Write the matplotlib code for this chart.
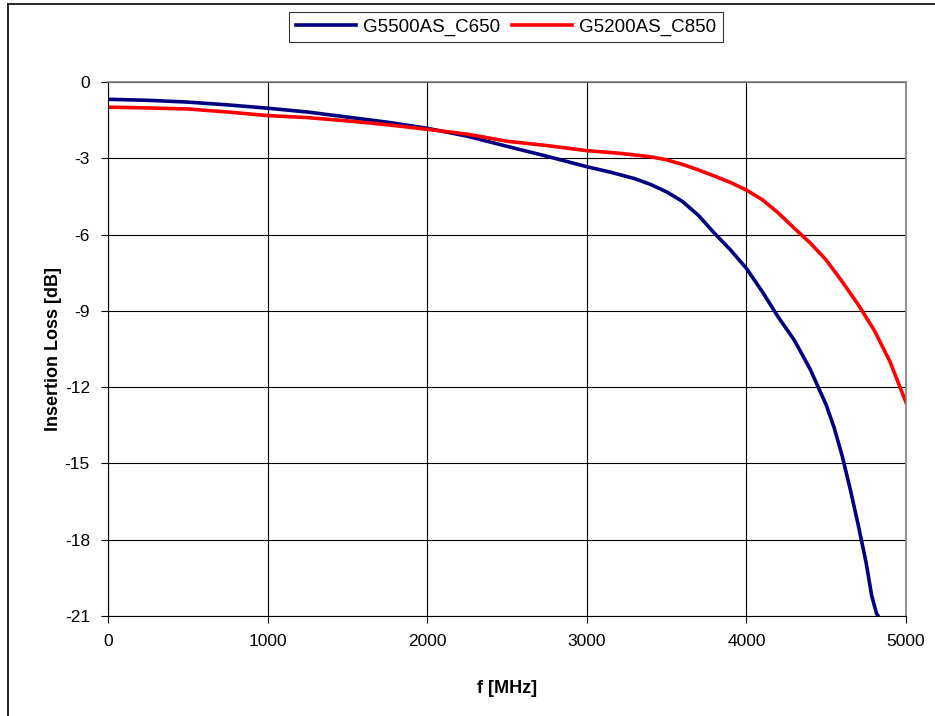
import matplotlib.pyplot as plt
from matplotlib.lines import Line2D

# --- 数据 ---
freq_c650 = [0, 250, 500, 750, 1000, 1250, 1500, 1750, 2000, 2250, 2500, 2750,
             3000, 3150, 3300, 3400, 3500, 3600, 3700, 3800, 3900, 4000, 4100,
             4200, 4300, 4400, 4500, 4550, 4600, 4650, 4700, 4750, 4785, 4815,
             4825]
loss_c650 = [-0.68, -0.72, -0.79, -0.90, -1.03, -1.18, -1.38, -1.58, -1.82,
             -2.13, -2.53, -2.92, -3.33, -3.55, -3.80, -4.03, -4.32, -4.70,
             -5.25, -5.95, -6.60, -7.33, -8.25, -9.25, -10.15, -11.30, -12.70,
             -13.60, -14.70, -16.00, -17.40, -18.90, -20.20, -20.90, -21.0]

freq_c850 = [0, 250, 500, 750, 1000, 1250, 1500, 1750, 2000, 2250, 2500, 2750,
             3000, 3200, 3400, 3500, 3600, 3700, 3800, 3900, 4000, 4100, 4200,
             4300, 4400, 4500, 4600, 4700, 4800, 4900, 4950, 5000]
loss_c850 = [-0.99, -1.02, -1.06, -1.18, -1.32, -1.40, -1.53, -1.68, -1.86,
             -2.05, -2.33, -2.50, -2.70, -2.80, -2.94, -3.06, -3.24, -3.46,
             -3.70, -3.95, -4.25, -4.63, -5.15, -5.75, -6.33, -7.00, -7.85,
             -8.75, -9.75, -11.00, -11.80, -12.60]

x_ticks = [0, 1000, 2000, 3000, 4000, 5000]
y_ticks = [0, -3, -6, -9, -12, -15, -18, -21]

plt.rcParams['font.family'] = ['Liberation Sans', 'DejaVu Sans']
plt.rcParams['axes.unicode_minus'] = False

fig = plt.figure(figsize=(9.35, 7.16), dpi=100)
ax = fig.add_axes([108 / 935, 1 - 616 / 716, 798 / 935, 534 / 716])

ax.plot(freq_c650, loss_c650, color='#000080', lw=2.6, label='G5500AS_C650',
        solid_joinstyle='round')
ax.plot(freq_c850, loss_c850, color='#ff0000', lw=2.6, label='G5200AS_C850',
        solid_joinstyle='round')

ax.set_xlim(0, 5000)
ax.set_ylim(-21, 0)
ax.set_xticks(x_ticks)
ax.set_yticks(y_ticks)
ax.tick_params(direction='out', length=5, width=0.8, labelsize=12.5,
               color='black', pad=8)
ax.grid(True, color='black', lw=0.8)
ax.set_axisbelow(True)

for side in ['top', 'right']:
    ax.spines[side].set_color('#808080')
    ax.spines[side].set_linewidth(1.2)
for side in ['left', 'bottom']:
    ax.spines[side].set_color('black')
    ax.spines[side].set_linewidth(0.8)

ax.set_xlabel('f [MHz]', fontsize=13, fontweight='bold', labelpad=22)
ax.set_ylabel('Insertion Loss [dB]', fontsize=13, fontweight='bold', labelpad=2)

leg = fig.legend(loc='center', bbox_to_anchor=(506 / 935, 1 - 27 / 716), ncol=2,
                 fontsize=13.5, frameon=True, fancybox=False, handlelength=3.2,
                 columnspacing=0.6, handletextpad=0.4, borderpad=0.35)
leg.get_frame().set_edgecolor('black')
leg.get_frame().set_linewidth(0.8)

# 外框
x0 = 8 / 935
y0 = 1 - 4 / 716
fig.add_artist(Line2D([x0, x0], [0, y0], color='black', lw=1.2))
fig.add_artist(Line2D([x0, 1], [y0, y0], color='black', lw=1.2))

fig.savefig('out.png', dpi=100)
